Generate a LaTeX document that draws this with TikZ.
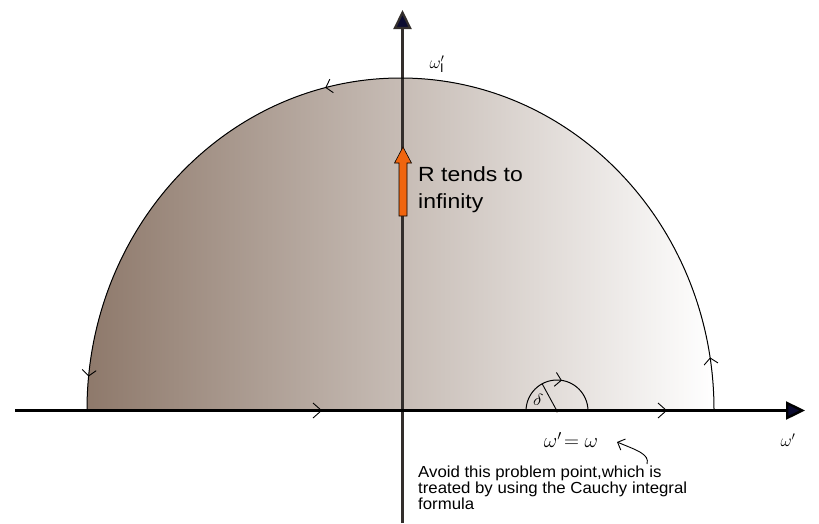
\documentclass[tikz,border=0pt]{standalone}
\usepackage{fontspec}
\setmainfont{Liberation Sans}
\usetikzlibrary{arrows.meta,decorations.markings}
\definecolor{fillL}{HTML}{8E796B}
\definecolor{orangeA}{HTML}{F0650E}
\definecolor{navyA}{HTML}{0B0B30}
\definecolor{vaxis}{HTML}{332E2C}
\begin{document}
\begin{tikzpicture}[x=1pt,y=-1pt,
  axisline/.style={line width=2.4pt, draw=black, -{Triangle[length=19pt,width=18pt,fill=navyA]}},
  contour/.style={line width=1pt, draw=black},
  chevron/.style={line width=0.9pt, draw=black},
  barbs/.style={postaction={decorate,decoration={markings,
      mark=at position 0.052 with {\arrow[line width=0.9pt]{Straight Barb[length=6pt,width=14pt]}},
      mark=at position 0.575 with {\arrow[line width=0.9pt]{Straight Barb[length=6pt,width=14pt]}},
      mark=at position 0.967 with {\arrow[line width=0.9pt]{Straight Barb[length=6pt,width=14pt]}}}}},
  smallbarb/.style={postaction={decorate,decoration={markings,
      mark=at position 0.55 with {\arrow[line width=0.9pt]{Straight Barb[length=6pt,width=14pt]}}}}},
  lbl/.style={inner sep=0pt, font=\fontsize{20.5}{27}\selectfont\addfontfeature{FakeStretch=1.12}, align=left, anchor=north west},
  note/.style={inner sep=0pt, font=\fontsize{16}{15.6}\selectfont\addfontfeature{FakeStretch=1.05}, align=left, anchor=north west},
  sym/.style={inner sep=0pt, font=\fontsize{18}{20}\selectfont}
]
\useasboundingbox (0,0) rectangle (819,523);

% shaded half-ellipse
\fill[left color=fillL, right color=white]
  (87,410) -- (714,410) arc[start angle=0, end angle=180, x radius=313.5pt, y radius=332pt] -- cycle;

% vertical axis
\coordinate (vbot) at (402.5,523);
\coordinate (vtop) at (402.5,10);
\draw[axisline, draw=vaxis, line width=2.2pt] (vbot) -- (vtop);

% big contour arc
\draw[contour, barbs] (714,410) arc[start angle=0, end angle=180, x radius=313.5pt, y radius=332pt];

% small semicircle
\draw[contour, smallbarb] (526,411) arc[start angle=180, end angle=0, radius=31pt];
\coordinate (pc) at (557,411);
\coordinate (pr) at (542,383.5);
\draw[line width=0.9pt] (pc) -- (pr);
\fill[black!70!brown] (pc) circle (1.6pt);
\node[inner sep=0pt, font=\fontsize{18}{18}\selectfont, rotate=-15] (delta) at (538,400) {$\delta$};

% horizontal axis
\coordinate (hleft) at (15,410.5);
\coordinate (hright) at (805,410.5);
\draw[axisline] (hleft) -- (hright);
\draw[chevron] (313,403) -- (321.5,410.5) -- (313,418);
\draw[chevron] (658,403) -- (666.5,410.5) -- (658,418);

% orange arrow
\filldraw[fill=orangeA, draw=black, line width=0.6pt]
  (399,216) -- (407,216) -- (407,163) -- (411.5,163) -- (403,147) -- (394.5,163) -- (399,163) -- cycle;
\node[lbl] (rtext) at (418,166) {R tends to\\infinity};

% axis labels
\node[sym] (wI) at (437,64) {$\omega'_{\mathrm{I}}$};
\node[sym] (wp) at (788,440) {$\omega'$};
\node[sym, font=\fontsize{19.5}{20}\selectfont] (weq) at (571,440) {$\omega'\!=\omega$};

% note and pointer
\node[note] (avoid) at (418,466) {Avoid this problem point,which is\\treated by using the Cauchy integral\\formula};
\coordinate (ptip) at (617,442);
\coordinate (pstart) at (647,464);
\draw[line width=0.9pt, -{Straight Barb[length=6pt,width=12pt]}]
  (pstart) .. controls (650,454) and (636,450) .. (ptip);
\end{tikzpicture}
\end{document}
